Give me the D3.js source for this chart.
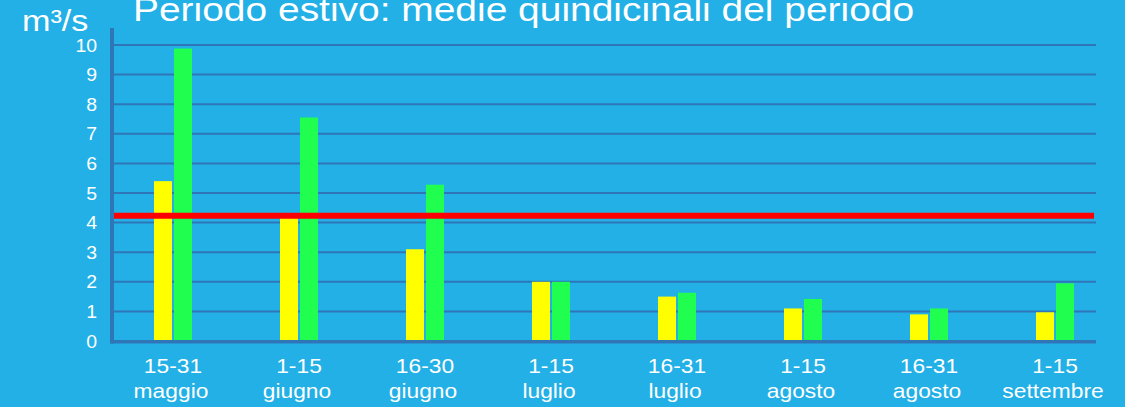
<!DOCTYPE html>
<html>
<head>
<meta charset="utf-8">
<script src="https://cdn.jsdelivr.net/npm/d3@7"></script>
<style>
  html, body { margin: 0; padding: 0; background: #22b0e6; }
  svg { display: block; }
</style>
</head>
<body>
<script>
// data
let periods = ["15-31", "1-15", "16-30", "1-15", "16-31", "1-15", "16-31", "1-15"];
let months = ["maggio", "giugno", "giugno", "luglio", "luglio", "agosto", "agosto", "settembre"];
let yellow_values = [5.4, 4.25, 3.1, 2.0, 1.5, 1.1, 0.9, 0.97];
let green_values = [9.88, 7.55, 5.28, 2.0, 1.63, 1.42, 1.1, 1.95];
let threshold = 4.23;
let y_ticks = [0, 1, 2, 3, 4, 5, 6, 7, 8, 9, 10];

// colors
let color_bg = "#22b0e6";
let color_grid = "#2f76b8";
let color_yellow = "#ffff00";
let color_green = "#20ff50";
let color_red = "#ff0000";

let width = 1125;
let height = 407;
let stretch = 1.14; // the original lettering runs a bit wider than Liberation Sans

let svg = d3.select("body").append("svg")
            .attr("width", width)
            .attr("height", height)
            .style("font-family", "'Liberation Sans', Arial, sans-serif");

svg.append("rect").attr("width", width).attr("height", height).attr("fill", color_bg);

let x = d3.scaleBand()
          .domain(d3.range(periods.length))
          .range([110, 1118])
          .paddingInner(0)
          .paddingOuter(0);

let y = d3.scaleLinear().domain([0, 10]).range([341, 45]);

let plot_left = 113;
let plot_right = 1096;

// grid lines
svg.append("g").selectAll("line")
   .data(y_ticks.filter(d => d > 0))
   .join("line")
   .attr("x1", plot_left)
   .attr("x2", plot_right)
   .attr("y1", d => y(d))
   .attr("y2", d => y(d))
   .attr("stroke", color_grid)
   .attr("stroke-width", 2);

// y tick labels
svg.append("g").selectAll("text")
   .data(y_ticks)
   .join("text")
   .attr("transform", d => "translate(97," + (y(d) + 6.5) + ") scale(1.08,1)")
   .attr("text-anchor", "end")
   .attr("fill", "white")
   .attr("font-size", 18)
   .text(d => d);

// bars
let bw = 18;
let groups = svg.append("g").selectAll("g")
   .data(periods.map((p, i) => i))
   .join("g")
   .attr("transform", i => "translate(" + (x(i) + x.bandwidth() / 2) + ",0)");

groups.append("rect")
      .attr("x", -bw - 1)
      .attr("width", bw)
      .attr("y", i => y(yellow_values[i]))
      .attr("height", i => y(0) - y(yellow_values[i]))
      .attr("fill", color_yellow);

groups.append("rect")
      .attr("x", 1)
      .attr("width", bw)
      .attr("y", i => y(green_values[i]))
      .attr("height", i => y(0) - y(green_values[i]))
      .attr("fill", color_green);

// x labels
groups.append("text")
      .attr("transform", "translate(0,373) scale(" + stretch + ",1)")
      .attr("text-anchor", "middle")
      .attr("fill", "white")
      .attr("font-size", 20)
      .text(i => periods[i]);

groups.append("text")
      .attr("transform", "translate(-2,398) scale(" + stretch + ",1)")
      .attr("text-anchor", "middle")
      .attr("fill", "white")
      .attr("font-size", 20)
      .text(i => months[i]);

// threshold line
svg.append("line")
   .attr("x1", plot_left)
   .attr("x2", plot_right - 2)
   .attr("y1", y(threshold))
   .attr("y2", y(threshold))
   .attr("stroke", color_red)
   .attr("stroke-width", 6);

// axes
svg.append("line")
   .attr("x1", 112).attr("x2", 112)
   .attr("y1", 28).attr("y2", 343.5)
   .attr("stroke", color_grid)
   .attr("stroke-width", 4);

svg.append("line")
   .attr("x1", 110).attr("x2", plot_right)
   .attr("y1", y(0) + 0.8).attr("y2", y(0) + 0.8)
   .attr("stroke", color_grid)
   .attr("stroke-width", 3.5);

// unit and title
svg.append("text")
   .attr("transform", "translate(22,31) scale(" + stretch + ",1)")
   .attr("fill", "white")
   .attr("font-size", 30)
   .text("m³/s");

svg.append("text")
   .attr("transform", "translate(133,21) scale(1.18,1)")
   .attr("fill", "white")
   .attr("font-size", 33)
   .text("Periodo estivo: medie quindicinali del periodo");
</script>
</body>
</html>
